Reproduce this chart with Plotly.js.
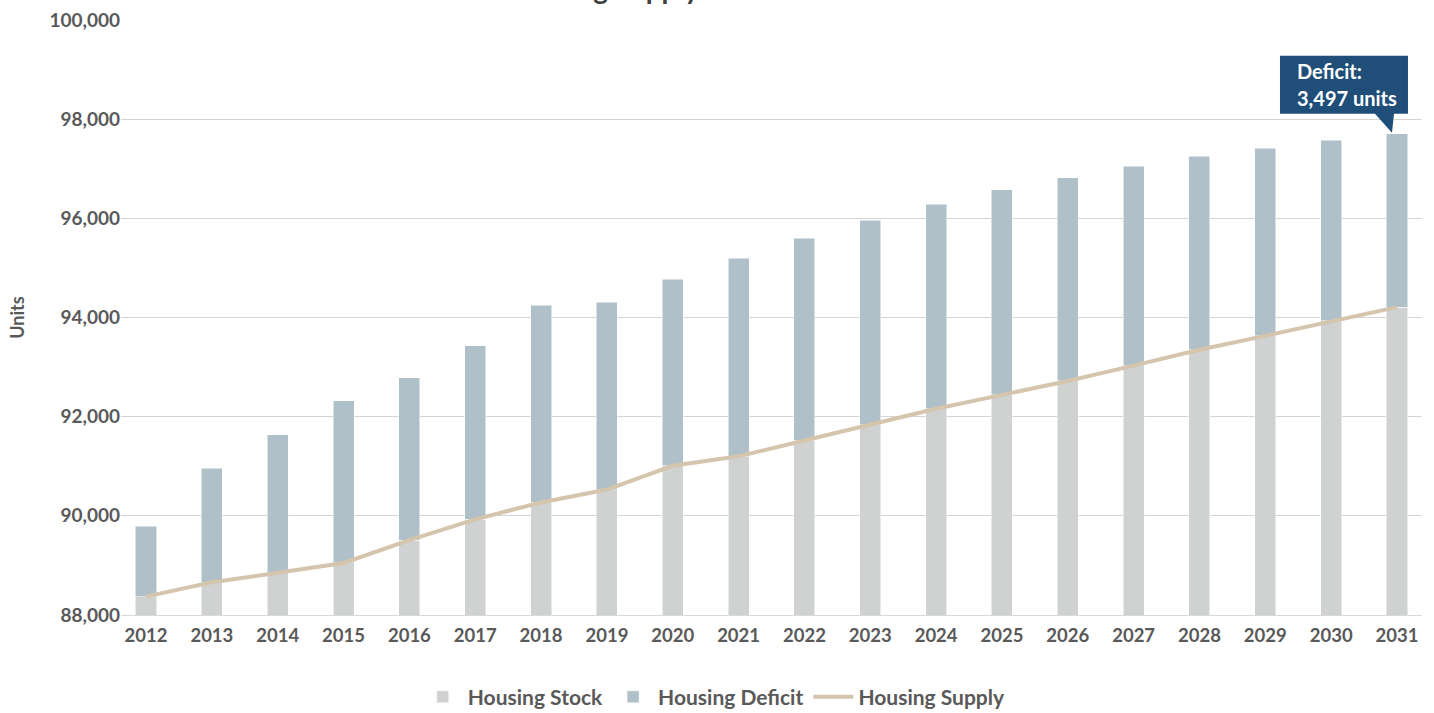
<!DOCTYPE html>
<html>
<head>
<meta charset="utf-8">
<script src="https://cdn.plot.ly/plotly-3.0.1.min.js"></script>
<style>
  html, body { margin: 0; padding: 0; background: #ffffff; }
  #chart { width: 1434px; height: 713px; }
</style>
</head>
<body>
<div id="chart"></div>
<script>
const years = ['2012','2013','2014','2015','2016','2017','2018','2019','2020','2021',
               '2022','2023','2024','2025','2026','2027','2028','2029','2030','2031'];
const housingStock = [88370, 88660, 88850, 89050, 89510, 89930, 90270, 90530, 91010, 91200,
                      91520, 91840, 92160, 92440, 92720, 93030, 93350, 93630, 93930, 94210];
const housingDeficit = [1420, 2300, 2790, 3270, 3270, 3500, 3980, 3780, 3760, 4000,
                        4080, 4120, 4120, 4140, 4100, 4020, 3900, 3780, 3640, 3497];
const housingSupply = [88370, 88660, 88850, 89050, 89510, 89930, 90270, 90530, 91010, 91200,
                       91520, 91840, 92160, 92440, 92720, 93030, 93350, 93630, 93930, 94210];
const yTicks = [88000, 90000, 92000, 94000, 96000, 98000, 100000];
const yTickText = ['88,000', '90,000', '92,000', '94,000', '96,000', '98,000', '100,000'];

const lastIdx = years.length - 1;
const lastTotal = housingStock[lastIdx] + housingDeficit[lastIdx];
const calloutLines = ['Deficit:', housingDeficit[lastIdx].toLocaleString('en-US') + ' units'];

const FONT = 'Lato, "Open Sans", sans-serif';
const TXT = '#595959';
const NAVY = '#1f4e79';

const traces = [
  {
    type: 'bar', name: 'Housing Stock', x: years, y: housingStock,
    marker: { color: '#d0d2d2', line: { color: '#ffffff', width: 0.5 } },
    width: 0.32, hoverinfo: 'skip'
  },
  {
    type: 'bar', name: 'Housing Deficit', x: years, y: housingDeficit,
    marker: { color: '#afc0c8', line: { color: '#ffffff', width: 0.5 } },
    width: 0.32, hoverinfo: 'skip'
  },
  {
    type: 'scatter', mode: 'lines', name: 'Housing Supply', x: years, y: housingSupply,
    line: { color: '#d4c5ac', width: 4 }, hoverinfo: 'skip'
  }
];

const layout = {
  width: 1434, height: 713,
  margin: { l: 121, r: 12, t: 20, b: 98, autoexpand: false },
  paper_bgcolor: '#ffffff', plot_bgcolor: '#ffffff',
  barmode: 'stack',
  font: { family: FONT, color: TXT, size: 18 },
  showlegend: true,
  legend: {
    orientation: 'h', x: 0.456, xanchor: 'center', y: -0.138, yanchor: 'middle',
    font: { family: FONT, size: 21, color: TXT, weight: 'bold' },
    traceorder: 'normal', itemwidth: 40
  },
  xaxis: {
    type: 'category', range: [-0.38, 19.38],
    showgrid: false, zeroline: false,
    showline: true, linecolor: '#d9d9d9', linewidth: 1,
    ticks: '', ticklabelstandoff: 4,
    tickfont: { family: FONT, size: 18.5, color: TXT, weight: 'bold' },
    fixedrange: true
  },
  yaxis: {
    range: [88000, 100000],
    tickvals: yTicks, ticktext: yTickText,
    showgrid: true, gridcolor: '#d4d4d4', gridwidth: 1,
    zeroline: false, showline: false, ticks: '',
    ticklabelstandoff: 0,
    tickfont: { family: FONT, size: 19, color: TXT, weight: 'bold' },
    title: { text: 'Units', font: { family: FONT, size: 18, color: TXT, weight: 'bold' }, standoff: 20 },
    fixedrange: true
  },
  annotations: [
    {
      text: 'Housing Supply and Demand',
      xref: 'paper', yref: 'paper', x: 0.294, y: 1.022, xanchor: 'left', yanchor: 'bottom',
      showarrow: false,
      font: { family: FONT, size: 28, color: '#404040', weight: 'bold' }
    },
    {
      text: calloutLines[0],
      xref: 'x', yref: 'y', x: lastIdx, y: lastTotal,
      xanchor: 'left', yanchor: 'middle', xshift: -102, yshift: 63,
      showarrow: false, align: 'left',
      font: { family: FONT, size: 20, color: '#ffffff', weight: 'bold' }
    },
    {
      text: calloutLines[1],
      xref: 'x', yref: 'y', x: lastIdx, y: lastTotal,
      xanchor: 'left', yanchor: 'middle', xshift: -102, yshift: 36,
      showarrow: false, align: 'left',
      font: { family: FONT, size: 20, color: '#ffffff', weight: 'bold' }
    }
  ],
  shapes: [
    {
      type: 'path', xref: 'x', yref: 'y',
      xsizemode: 'pixel', ysizemode: 'pixel',
      xanchor: lastIdx, yanchor: lastTotal,
      path: 'M -117 78 L 11 78 L 11 20 L -3 20 L -5 1 L -22 20 L -117 20 Z',
      fillcolor: NAVY, line: { width: 0 }, layer: 'above'
    }
  ]
};

Plotly.newPlot('chart', traces, layout, { displayModeBar: false, staticPlot: true });
</script>
</body>
</html>
